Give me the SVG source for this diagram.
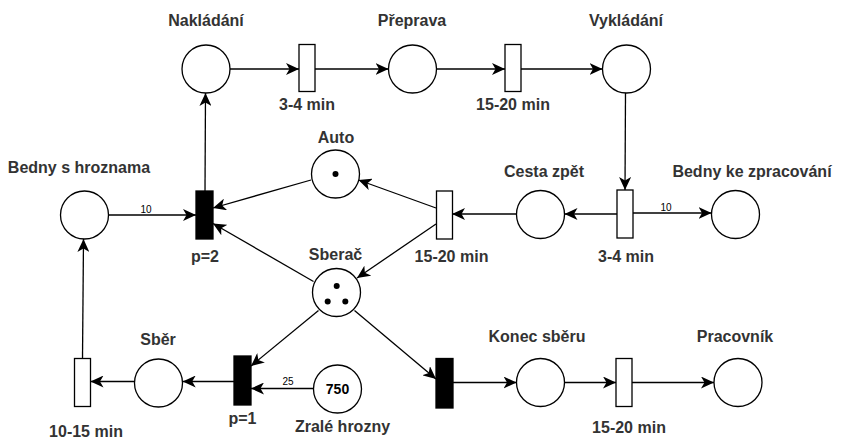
<svg xmlns="http://www.w3.org/2000/svg" width="842" height="446" viewBox="0 0 842 446">
<defs>
<marker id="arr" markerUnits="userSpaceOnUse" markerWidth="14" markerHeight="12" refX="13" refY="6" orient="auto" viewBox="0 0 14 12">
<path d="M0,0 L13,6 L0,12 L3.5,6 z" fill="#000"/>
</marker>
<style>
.pl{fill:#fff;stroke:#000;stroke-width:1.3}
.tr{fill:#fff;stroke:#000;stroke-width:1.3}
.tb{fill:#000;stroke:#000;stroke-width:1.3}
.tk{fill:#000}
.lb{font-family:"Liberation Sans",Arial,sans-serif;font-size:16px;font-weight:bold;fill:#333;text-anchor:middle}
.num{font-family:"Liberation Sans",Arial,sans-serif;font-size:14px;font-weight:bold;fill:#000;text-anchor:middle}
.sm{font-family:"Liberation Sans",Arial,sans-serif;font-size:10px;fill:#000;text-anchor:middle}
.c line{stroke:#000;stroke-width:1.3;marker-end:url(#arr)}
</style>
</defs>
<rect width="842" height="446" fill="#fff"/>
<g class="c" id="connectors">
<line x1="108.7" y1="215" x2="196" y2="215"/>
<line x1="205" y1="191" x2="205.5" y2="93"/>
<line x1="230" y1="69" x2="299" y2="69"/>
<line x1="315" y1="69" x2="388.5" y2="69"/>
<line x1="436.5" y1="69" x2="505" y2="69"/>
<line x1="521" y1="69" x2="602.5" y2="69"/>
<line x1="625.5" y1="93" x2="625" y2="190"/>
<line x1="617" y1="214" x2="564.5" y2="214"/>
<line x1="633" y1="213" x2="711.5" y2="213"/>
<line x1="516.5" y1="214" x2="452" y2="214"/>
<line x1="436" y1="208" x2="358.5" y2="180"/>
<line x1="436" y1="224" x2="357" y2="278"/>
<line x1="311" y1="180" x2="213" y2="208"/>
<line x1="313.5" y1="281.5" x2="213" y2="223.5"/>
<line x1="318.5" y1="310.5" x2="251" y2="366"/>
<line x1="354.5" y1="310.5" x2="436" y2="379"/>
<line x1="313.5" y1="388.5" x2="251" y2="388.5"/>
<line x1="234" y1="381.5" x2="182.7" y2="381.5"/>
<line x1="134.5" y1="381.5" x2="90.5" y2="381.5"/>
<line x1="82.5" y1="358" x2="83.5" y2="239"/>
<line x1="453" y1="382.5" x2="516.5" y2="382.5"/>
<line x1="564.5" y1="382.5" x2="616" y2="382.5"/>
<line x1="632" y1="382.5" x2="714" y2="382.5"/>
<text class="sm" x="146" y="213">10</text>
<text class="sm" x="666" y="211">10</text>
<text class="sm" x="288" y="385">25</text>
</g>
<g id="nakladani"><circle class="pl" cx="206" cy="69" r="24"/><text class="lb" x="206" y="26">Nakládání</text></g>
<g id="t-nakladani"><rect class="tr" x="299" y="44.5" width="16" height="47"/><text class="lb" x="307" y="110">3-4 min</text></g>
<g id="preprava"><circle class="pl" cx="412.5" cy="69" r="24"/><text class="lb" x="412" y="26">Přeprava</text></g>
<g id="t-preprava"><rect class="tr" x="505" y="44.5" width="16" height="47"/><text class="lb" x="513" y="110">15-20 min</text></g>
<g id="vykladani"><circle class="pl" cx="626.5" cy="69" r="24"/><text class="lb" x="626" y="26">Vykládání</text></g>
<g id="bedny-s-hroznama"><circle class="pl" cx="84.5" cy="215" r="24"/><text class="lb" x="79" y="173">Bedny s hroznama</text></g>
<g id="t-p2"><rect class="tb" x="196" y="191" width="17" height="48"/><text class="lb" x="205" y="262">p=2</text></g>
<g id="auto"><circle class="pl" cx="335.5" cy="174" r="24"/><circle class="tk" cx="335.5" cy="174" r="3"/><text class="lb" x="336" y="143">Auto</text></g>
<g id="t-cesta"><rect class="tr" x="436.5" y="191" width="16" height="48"/><text class="lb" x="451.5" y="262">15-20 min</text></g>
<g id="cesta-zpet"><circle class="pl" cx="540.5" cy="214.5" r="24"/><text class="lb" x="544" y="177">Cesta zpět</text></g>
<g id="t-vykladani"><rect class="tr" x="617" y="190" width="16" height="48"/><text class="lb" x="626" y="262">3-4 min</text></g>
<g id="bedny-ke-zpracovani"><circle class="pl" cx="735.5" cy="214.5" r="24"/><text class="lb" x="752" y="177">Bedny ke zpracování</text></g>
<g id="sberac"><circle class="pl" cx="336.5" cy="292.5" r="24"/><circle class="tk" cx="336.7" cy="286" r="3"/><circle class="tk" cx="327.7" cy="301.5" r="3"/><circle class="tk" cx="345.3" cy="301.5" r="3"/><text class="lb" x="335.5" y="260">Sberač</text></g>
<g id="t-sber"><rect class="tr" x="74.5" y="358.5" width="16" height="48"/><text class="lb" x="86" y="437">10-15 min</text></g>
<g id="sber"><circle class="pl" cx="158.5" cy="383" r="24"/><text class="lb" x="158" y="345">Sběr</text></g>
<g id="t-p1"><rect class="tb" x="234" y="356" width="17" height="49"/><text class="lb" x="242.5" y="424">p=1</text></g>
<g id="zrale-hrozny"><circle class="pl" cx="337.5" cy="389" r="24"/><text class="num" x="337.5" y="394">750</text><text class="lb" x="342.5" y="432">Zralé hrozny</text></g>
<g id="t-konec"><rect class="tb" x="436" y="358.5" width="17" height="49.5"/></g>
<g id="konec-sberu"><circle class="pl" cx="540.5" cy="382.5" r="24"/><text class="lb" x="537" y="342">Konec sběru</text></g>
<g id="t-pracovnik"><rect class="tr" x="616" y="358.5" width="16" height="48"/><text class="lb" x="629" y="433">15-20 min</text></g>
<g id="pracovnik"><circle class="pl" cx="738" cy="382.5" r="24"/><text class="lb" x="735" y="342">Pracovník</text></g>
</svg>
